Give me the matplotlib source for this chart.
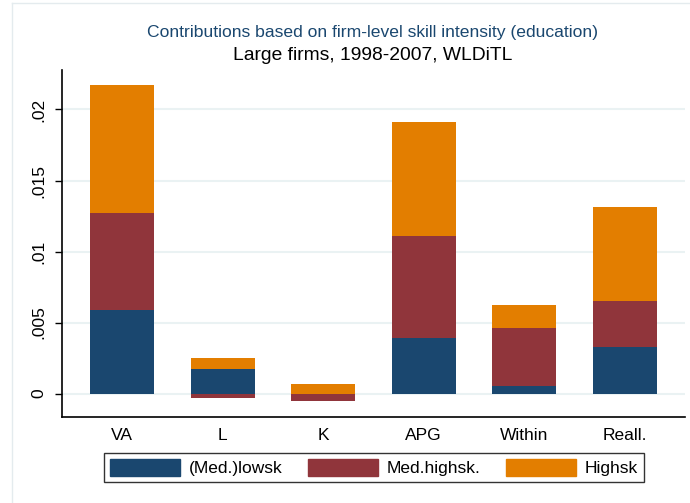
import matplotlib
matplotlib.use("Agg")
import matplotlib.pyplot as plt
from matplotlib.lines import Line2D
from matplotlib.patches import Patch
import numpy as np

plt.rcParams["font.family"] = ["Liberation Sans", "DejaVu Sans"]

# Data
categories = ["VA", "L", "K", "APG", "Within", "Reall."]
lowsk = [0.0059, 0.0017, 0.0, 0.0039, 0.0005, 0.0033]
medhighsk = [0.0068, -0.0003, -0.00055, 0.0072, 0.0041, 0.0032]
highsk = [0.0090, 0.0008, 0.0007, 0.0080, 0.0016, 0.0066]
series_names = ["(Med.)lowsk", "Med.highsk.", "Highsk"]
yticks = [0, 0.005, 0.01, 0.015, 0.02]
ytick_labels = ["0", ".005", ".01", ".015", ".02"]

colors = ["#1a476f", "#90353b", "#e37e00"]

W, H = 690, 503
fig = plt.figure(figsize=(W / 100, H / 100), dpi=100)
ax = fig.add_axes([62 / W, (H - 416.7) / H, (685 - 62) / W, (416.7 - 70) / H])

x = np.arange(len(categories))
pos_base = np.zeros(len(categories))
neg_base = np.zeros(len(categories))
for vals, col in zip([lowsk, medhighsk, highsk], colors):
    vals = np.array(vals)
    bottoms = np.where(vals >= 0, pos_base, neg_base)
    ax.bar(x, vals, bottom=bottoms, width=0.64, color=col, zorder=3)
    pos_base = pos_base + np.clip(vals, 0, None)
    neg_base = neg_base + np.clip(vals, None, 0)

ax.set_xlim(-0.6, 5.6)
ax.set_ylim(-0.00163, 0.02278)
ax.set_yticks(yticks)
ax.set_yticklabels(ytick_labels, rotation=90, va="center", fontsize=12.5)
ax.set_xticks(x)
ax.set_xticklabels(categories, fontsize=12.5)
ax.tick_params(axis="x", length=0, pad=8)
ax.tick_params(axis="y", length=5, width=1, pad=6)
ax.grid(axis="y", color="#eaf2f3", linewidth=1.5, zorder=0)
ax.set_axisbelow(True)
for side in ["top", "right"]:
    ax.spines[side].set_visible(False)
for side in ["left", "bottom"]:
    ax.spines[side].set_linewidth(1.2)

fig.text(373 / W, 1 - 32 / H, "Contributions based on firm-level skill intensity (education)",
         ha="center", va="center", color="#1a476f", fontsize=12.6)
fig.text(373 / W, 1 - 55 / H, "Large firms, 1998-2007, WLDiTL",
         ha="center", va="center", color="black", fontsize=13.85)

handles = [Patch(facecolor=c, edgecolor=c) for c in colors]
leg = fig.legend(handles, series_names, loc="center", ncol=3,
                 bbox_to_anchor=(374 / W, 1 - 467.5 / H), fontsize=12.5,
                 frameon=True, fancybox=False, edgecolor="black",
                 handlelength=4.0, handleheight=1.2, handletextpad=0.5,
                 columnspacing=1.5, borderpad=0.35)
leg.get_frame().set_linewidth(1.0)

# outer graph region border (light)
fig.add_artist(Line2D([12 / W, 12 / W], [0, 1 - 3 / H], color="#e4ebee", lw=1))
fig.add_artist(Line2D([12 / W, 1], [1 - 3 / H, 1 - 3 / H], color="#e4ebee", lw=1))

fig.savefig("out.png", dpi=100)
